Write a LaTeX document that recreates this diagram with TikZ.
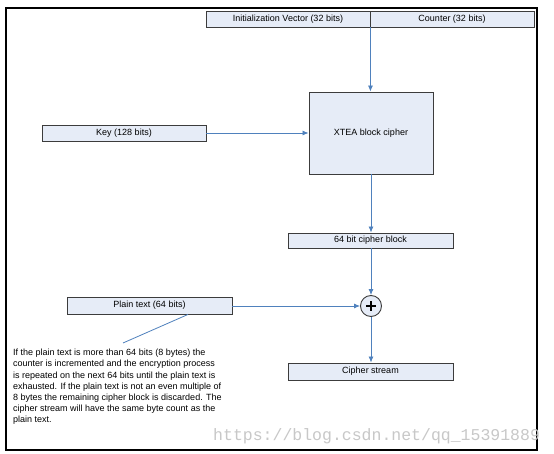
\documentclass[tikz,border=0pt]{standalone}
\usepackage{fontspec}
\setmainfont{Liberation Sans}
\setmonofont{Liberation Mono}
\usetikzlibrary{arrows.meta,calc}
\definecolor{boxfill}{HTML}{E6ECF7}
\definecolor{boxline}{HTML}{3C3C3C}
\definecolor{arrowblue}{HTML}{4F81BD}
\definecolor{wmark}{HTML}{C8C8C8}
\begin{document}
\begin{tikzpicture}[x=1pt,y=-1pt,
  bx/.style={draw=boxline,fill=boxfill,line width=0.9pt,inner sep=0pt,font=\fontsize{9}{10}\selectfont,text=black},
  conn/.style={draw=arrowblue,line width=0.8pt,-{Latex[length=6pt,width=5pt]}},
  plainline/.style={draw=arrowblue,line width=0.8pt}]
\useasboundingbox (0,0) rectangle (554,454);
\fill[white] (0,0) rectangle (554,454);
% frame
\draw[black,line width=1.7pt] (6,8) rectangle (537,450);
% nodes
\node[bx,minimum width=164pt,minimum height=16pt] (iv) at (288,19) {Initialization Vector (32 bits)};
\node[bx,minimum width=164pt,minimum height=16pt] (ctr) at (452,19) {Counter (32 bits)};
\node[bx,minimum width=124pt,minimum height=82pt,font=\fontsize{9}{10}\selectfont] (xtea) at (371,133) {XTEA block cipher};
\node[bx,minimum width=164pt,minimum height=16pt] (key) at (124,133) {Key (128 bits)};
\node[bx,minimum width=165pt,minimum height=15pt] (cb) at (370.5,240.5) {64 bit cipher block};
\node[draw=boxline,fill=boxfill,line width=0.9pt,circle,minimum size=21pt,inner sep=0pt] (xor) at (371,306) {};
\draw[black,line width=1.9pt] ($(xor.center)+(-5,0)$) -- ($(xor.center)+(5,0)$)
  ($(xor.center)+(0,-5)$) -- ($(xor.center)+(0,5)$);
\node[bx,minimum width=165pt,minimum height=17pt] (pt) at (149.5,305.5) {Plain text (64 bits)};
\node[bx,minimum width=165pt,minimum height=17pt] (cs) at (370.5,371.5) {Cipher stream};
\node[anchor=north west,inner sep=0pt,align=left,font=\fontsize{9}{11.2}\selectfont] (note) at (13,349)
  {If the plain text is more than 64 bits (8 bytes) the\\
   counter is incremented and the encryption process\\
   is repeated on the next 64 bits until the plain text is\\
   exhausted. If the plain text is not an even multiple of\\
   8 bytes the remaining cipher block is discarded. The\\
   cipher stream will have the same byte count as the\\
   plain text.};
\coordinate (lt) at (123,343);
% connectors
\draw[conn] (iv.south east) -- (iv.south east |- xtea.north);
\draw[conn] (key.east) -- (xtea.west);
\draw[conn] (xtea.south) -- (xtea.south |- cb.north);
\draw[conn] (cb.south -| xor.north) -- (xor.north);
\draw[conn] (pt.east |- xor.west) -- (xor.west);
\draw[conn] (xor.south) -- (xor.south |- cs.north);
\draw[plainline] ([xshift=38.5pt]pt.south) -- (lt);
% watermark
\node[anchor=base west,inner sep=0pt,text=wmark,font=\ttfamily\fontsize{16.5}{18}\selectfont] (wm) at (213,440) {https://blog.csdn.net/qq\_15391889};
\end{tikzpicture}
\end{document}
